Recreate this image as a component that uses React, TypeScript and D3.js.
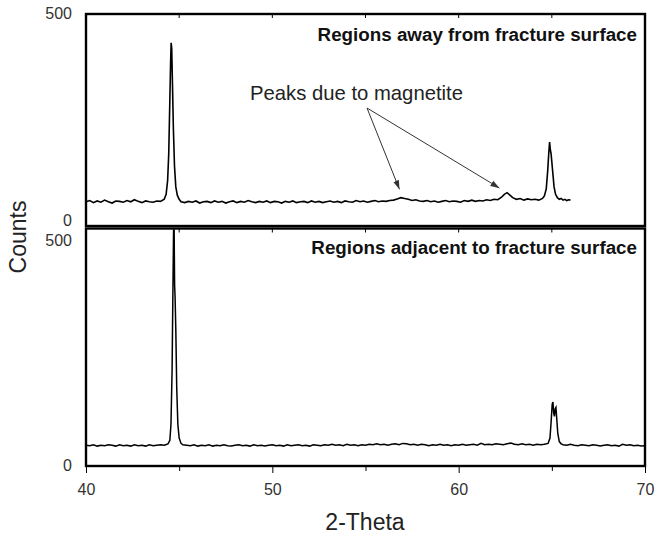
import React, { useEffect, useRef } from 'react';
import * as d3 from 'd3';

// 2-theta / counts pairs
const awayScan: [number, number][] = [
  [40.0, 44], [40.2, 47], [40.4, 42], [40.6, 46], [40.8, 43], [41.0, 48], [41.2, 44], [41.4, 41],
  [41.6, 46], [41.8, 45], [42.0, 43], [42.2, 47], [42.4, 44], [42.6, 49], [42.8, 45], [43.0, 42],
  [43.2, 46], [43.4, 44], [43.6, 43], [43.8, 46], [44.0, 45], [44.2, 50], [44.3, 62], [44.38, 95],
  [44.44, 160], [44.5, 290], [44.54, 380], [44.57, 428], [44.6, 415], [44.64, 330], [44.69, 220],
  [44.75, 130], [44.82, 80], [44.9, 60], [45.0, 50], [45.1, 44], [45.3, 42], [45.5, 45], [45.7, 43],
  [45.9, 46], [46.1, 41], [46.3, 44], [46.5, 45], [46.7, 42], [46.9, 46], [47.1, 43], [47.3, 45],
  [47.5, 41], [47.7, 44], [47.9, 46], [48.1, 42], [48.3, 45], [48.5, 43], [48.7, 47], [48.9, 44],
  [49.1, 42], [49.3, 45], [49.5, 43], [49.7, 46], [49.9, 42], [50.1, 45], [50.3, 44], [50.5, 41],
  [50.7, 45], [50.9, 43], [51.1, 46], [51.3, 42], [51.5, 44], [51.7, 45], [51.9, 42], [52.1, 46],
  [52.3, 43], [52.5, 45], [52.7, 42], [52.9, 44], [53.1, 46], [53.3, 43], [53.5, 45], [53.7, 42],
  [53.9, 46], [54.1, 44], [54.3, 43], [54.5, 47], [54.7, 44], [54.9, 46], [55.1, 43], [55.3, 45],
  [55.5, 47], [55.7, 44], [55.9, 46], [56.1, 45], [56.3, 47], [56.5, 48], [56.7, 51], [56.9, 54],
  [57.1, 52], [57.3, 50], [57.5, 47], [57.7, 49], [57.9, 46], [58.1, 45], [58.3, 47], [58.5, 44],
  [58.7, 46], [58.9, 43], [59.1, 45], [59.3, 47], [59.5, 44], [59.7, 46], [59.9, 45], [60.1, 43],
  [60.3, 47], [60.5, 45], [60.7, 48], [60.9, 45], [61.1, 47], [61.3, 46], [61.5, 49], [61.7, 47],
  [61.9, 50], [62.1, 49], [62.3, 55], [62.45, 62], [62.6, 66], [62.75, 60], [62.9, 54], [63.1, 50],
  [63.3, 52], [63.5, 48], [63.7, 51], [63.9, 49], [64.1, 50], [64.3, 48], [64.5, 52], [64.6, 58],
  [64.7, 75], [64.78, 120], [64.84, 165], [64.88, 188], [64.92, 170], [64.96, 160], [65.0, 140],
  [65.06, 110], [65.12, 80], [65.2, 62], [65.3, 54], [65.4, 50], [65.5, 52], [65.6, 48], [65.7, 50],
  [65.8, 47], [65.9, 49], [66.0, 48],
];

const adjacentScan: [number, number][] = [
  [40.0, 44], [40.2, 43], [40.4, 45], [40.6, 42], [40.8, 44], [41.0, 43], [41.2, 45], [41.4, 44],
  [41.6, 42], [41.8, 45], [42.0, 43], [42.2, 44], [42.4, 42], [42.6, 45], [42.8, 43], [43.0, 44],
  [43.2, 42], [43.4, 45], [43.6, 43], [43.8, 44], [44.0, 45], [44.2, 44], [44.4, 47], [44.5, 55],
  [44.56, 90], [44.62, 210], [44.66, 370], [44.7, 522], [44.73, 522], [44.755, 400], [44.78, 375],
  [44.82, 300], [44.87, 170], [44.93, 90], [45.0, 60], [45.1, 48], [45.2, 45], [45.4, 44], [45.6, 43],
  [45.8, 45], [46.0, 42], [46.2, 44], [46.4, 43], [46.6, 45], [46.8, 42], [47.0, 44], [47.2, 43],
  [47.4, 45], [47.6, 43], [47.8, 42], [48.0, 44], [48.2, 45], [48.4, 43], [48.6, 44], [48.8, 42],
  [49.0, 45], [49.2, 43], [49.4, 44], [49.6, 42], [49.8, 44], [50.0, 45], [50.2, 43], [50.4, 44],
  [50.6, 42], [50.8, 45], [51.0, 43], [51.2, 44], [51.4, 45], [51.6, 43], [51.8, 44], [52.0, 42],
  [52.2, 45], [52.4, 44], [52.6, 43], [52.8, 45], [53.0, 44], [53.2, 46], [53.4, 44], [53.6, 45],
  [53.8, 43], [54.0, 46], [54.2, 44], [54.4, 45], [54.6, 43], [54.8, 45], [55.0, 44], [55.2, 46],
  [55.4, 45], [55.6, 47], [55.8, 45], [56.0, 46], [56.2, 44], [56.4, 46], [56.6, 47], [56.8, 45],
  [57.0, 48], [57.2, 47], [57.4, 45], [57.6, 46], [57.8, 44], [58.0, 46], [58.2, 45], [58.4, 43],
  [58.6, 45], [58.8, 44], [59.0, 46], [59.2, 44], [59.4, 45], [59.6, 43], [59.8, 45], [60.0, 44],
  [60.2, 46], [60.4, 44], [60.6, 45], [60.8, 46], [61.0, 44], [61.2, 48], [61.4, 45], [61.6, 46],
  [61.8, 45], [62.0, 47], [62.2, 46], [62.4, 45], [62.6, 47], [62.8, 49], [63.0, 46], [63.2, 45],
  [63.4, 47], [63.6, 45], [63.8, 46], [64.0, 44], [64.2, 46], [64.4, 45], [64.6, 46], [64.8, 48],
  [64.9, 60], [64.96, 95], [65.02, 135], [65.06, 140], [65.1, 115], [65.14, 108], [65.18, 125],
  [65.22, 128], [65.26, 105], [65.32, 70], [65.4, 52], [65.5, 47], [65.6, 45], [65.8, 44], [66.0, 46],
  [66.2, 44], [66.4, 43], [66.6, 45], [66.8, 44], [67.0, 43], [67.2, 45], [67.4, 44], [67.6, 42],
  [67.8, 44], [68.0, 45], [68.2, 43], [68.4, 44], [68.6, 42], [68.8, 46], [69.0, 44], [69.2, 45],
  [69.4, 43], [69.6, 44], [69.8, 42], [70.0, 43],
];

const xMajorTicks = [40, 50, 60, 70];
const xMinorTicks = [45, 55, 65];
const yTickLabels = [0, 500];
const magnetitePeaks: [number, number][] = [[57.0, 54], [62.6, 66]];

const topTitle = 'Regions away from fracture surface';
const bottomTitle = 'Regions adjacent to fracture surface';
const noteText = 'Peaks due to magnetite';

export default function App() {
  const ref = useRef<SVGSVGElement>(null);

  useEffect(() => {
    const svg = d3.select(ref.current);
    svg.selectAll('*').remove();

    const left = 86, right = 645;
    const topPanel = { top: 14, bottom: 226 };
    const botPanel = { top: 228.5, bottom: 466 };

    const x = d3.scaleLinear().domain([40, 70]).range([left, right]);
    const yTop = d3.scaleLinear().domain([0, 500]).range([220, 13]);
    const yBot = d3.scaleLinear().domain([0, 500]).range([465, 240]);

    const font = 'Arial, "Liberation Sans", sans-serif';

    // arrowhead marker
    svg.append('defs').append('marker')
      .attr('id', 'arrowhead')
      .attr('markerUnits', 'userSpaceOnUse')
      .attr('markerWidth', 10).attr('markerHeight', 8)
      .attr('refX', 9).attr('refY', 4)
      .attr('orient', 'auto')
      .append('path')
      .attr('d', 'M0,1 L9,4 L0,7 Z')
      .attr('fill', '#333');

    // scan lines
    const lineTop = d3.line<[number, number]>().x(d => x(d[0])).y(d => yTop(d[1]));
    const lineBot = d3.line<[number, number]>().x(d => x(d[0])).y(d => yBot(d[1]));

    svg.append('path').datum(awayScan)
      .attr('fill', 'none').attr('stroke', '#000').attr('stroke-width', 1.6)
      .attr('d', lineTop);

    svg.append('path').datum(adjacentScan)
      .attr('fill', 'none').attr('stroke', '#000').attr('stroke-width', 1.5)
      .attr('d', lineBot);

    // panel frames
    [topPanel, botPanel].forEach(p => {
      svg.append('rect')
        .attr('x', left).attr('y', p.top)
        .attr('width', right - left).attr('height', p.bottom - p.top)
        .attr('fill', 'none').attr('stroke', '#000').attr('stroke-width', 2.4);
    });

    // inner ticks on the top edge of each panel
    [topPanel.top, botPanel.top].forEach(yy => {
      svg.append('g')
        .selectAll('line')
        .data([...xMinorTicks, 50, 60])
        .join('line')
        .attr('x1', d => x(d)).attr('x2', d => x(d))
        .attr('y1', yy).attr('y2', yy + 4)
        .attr('stroke', '#000').attr('stroke-width', 1);
    });

    // bottom axis
    const axisMajor = svg.append('g')
      .attr('transform', `translate(0, ${botPanel.bottom})`)
      .call(d3.axisBottom(x).tickValues(xMajorTicks).tickSize(7).tickPadding(11).tickFormat(d3.format('d')));
    axisMajor.select('.domain').remove();
    axisMajor.selectAll('text')
      .attr('font-family', font).attr('font-size', 16).attr('fill', '#333');

    const axisMinor = svg.append('g')
      .attr('transform', `translate(0, ${botPanel.bottom})`)
      .call(d3.axisBottom(x).tickValues(xMinorTicks).tickSize(5).tickFormat(() => ''));
    axisMinor.select('.domain').remove();

    // y tick labels
    const yLabels: [d3.ScaleLinear<number, number>, number][] = [];
    yTickLabels.forEach(v => { yLabels.push([yTop, v]); yLabels.push([yBot, v]); });
    svg.append('g')
      .selectAll('text')
      .data(yLabels)
      .join('text')
      .attr('x', 72)
      .attr('y', d => d[0](d[1]))
      .attr('dy', '0.35em')
      .attr('text-anchor', 'end')
      .attr('font-family', font).attr('font-size', 16).attr('fill', '#333')
      .text(d => d[1]);

    // panel titles
    svg.append('text')
      .attr('x', 637).attr('y', 41)
      .attr('text-anchor', 'end')
      .attr('font-family', font).attr('font-size', 18.8).attr('font-weight', 'bold')
      .attr('fill', '#111')
      .text(topTitle);

    svg.append('text')
      .attr('x', 637).attr('y', 254)
      .attr('text-anchor', 'end')
      .attr('font-family', font).attr('font-size', 18.8).attr('font-weight', 'bold')
      .attr('fill', '#111')
      .text(bottomTitle);

    // magnetite annotation
    svg.append('text')
      .attr('x', 463).attr('y', 100)
      .attr('text-anchor', 'end')
      .attr('font-family', font).attr('font-size', 20.3).attr('fill', '#222')
      .text(noteText);

    const origin = [367, 108];
    svg.append('g')
      .selectAll('line')
      .data(magnetitePeaks)
      .join('line')
      .each(function (d) {
        const tx = x(d[0]), ty = yTop(d[1]);
        const dx = tx - origin[0], dy = ty - origin[1];
        const len = Math.hypot(dx, dy);
        d3.select(this)
          .attr('x1', origin[0]).attr('y1', origin[1])
          .attr('x2', tx - dx / len * 9).attr('y2', ty - dy / len * 9);
      })
      .attr('stroke', '#333').attr('stroke-width', 1)
      .attr('marker-end', 'url(#arrowhead)');

    // axis titles
    svg.append('text')
      .attr('x', (left + right) / 2 - 0.5).attr('y', 530)
      .attr('text-anchor', 'middle')
      .attr('font-family', font).attr('font-size', 23).attr('fill', '#222')
      .text('2-Theta');

    svg.append('text')
      .attr('transform', 'translate(26, 237) rotate(-90)')
      .attr('text-anchor', 'middle')
      .attr('font-family', font).attr('font-size', 23).attr('fill', '#222')
      .text('Counts');
  }, []);

  return (
    <svg ref={ref} width={656} height={537}
      style={{ position: 'absolute', left: 0, top: 0, background: '#fff' }} />
  );
}
